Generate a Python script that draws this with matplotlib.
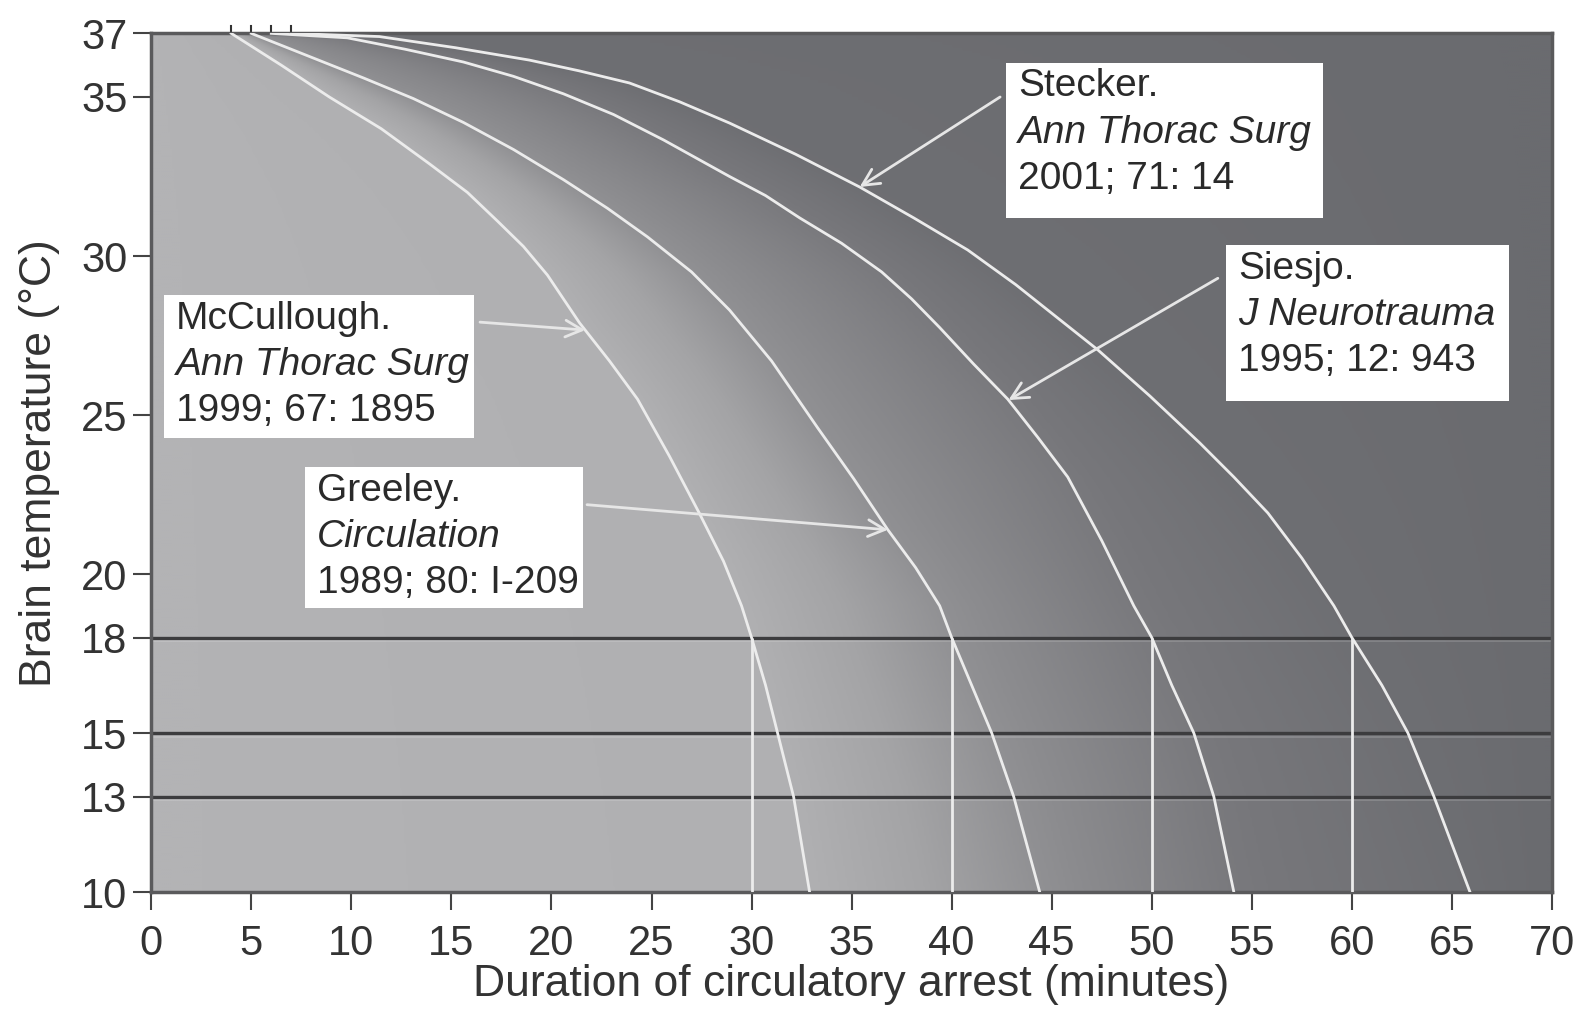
import numpy as np
import matplotlib
matplotlib.use('Agg')
import matplotlib.pyplot as plt
from matplotlib.colors import LinearSegmentedColormap
from matplotlib.patches import Rectangle

plt.rcParams['font.family'] = ['Liberation Sans', 'DejaVu Sans']

# safe duration curves (minutes vs brain temperature)
mccullough_min = [4.0, 6.5, 8.9, 11.5, 13.9, 15.8, 17.3, 18.6, 19.8, 21.4, 22.9, 24.3,
                  25.9, 27.4, 28.6, 29.5, 30.0, 30.7, 31.3, 32.1, 32.9]
mccullough_temp = [37.0, 36.0, 35.0, 34.0, 32.9, 32.0, 31.1, 30.3, 29.4, 27.9, 26.7, 25.5,
                   23.7, 21.9, 20.4, 19.0, 18.0, 16.5, 15.0, 13.0, 10.0]

greeley_min = [5.0, 7.8, 10.6, 13.1, 15.6, 18.1, 20.6, 22.8, 24.8, 27.0, 28.9, 31.0,
               33.3, 35.1, 36.8, 38.2, 39.4, 40.0, 41.0, 42.0, 43.1, 44.4]
greeley_temp = [37.0, 36.3, 35.6, 34.95, 34.2, 33.35, 32.4, 31.5, 30.6, 29.5, 28.3, 26.7,
                24.6, 23.0, 21.4, 20.2, 19.0, 18.0, 16.5, 15.0, 13.0, 10.0]

siesjo_min = [6.0, 9.8, 12.7, 15.6, 18.1, 20.6, 23.1, 25.6, 28.9, 30.7, 32.4, 34.5, 36.5,
              38.0, 39.4, 41.1, 42.8, 44.3, 45.8, 47.5, 49.1, 50.0, 51.0, 52.1, 53.1, 54.1]
siesjo_temp = [37.0, 36.86, 36.5, 36.1, 35.65, 35.1, 34.45, 33.65, 32.5, 31.9, 31.2, 30.4, 29.5,
               28.65, 27.75, 26.6, 25.5, 24.3, 23.05, 21.05, 19.0, 18.0, 16.5, 15.0, 13.0, 10.0]

stecker_min = [7.0, 11.4, 15.2, 18.9, 21.4, 23.9, 26.4, 28.9, 32.2, 35.4, 38.1, 40.8, 43.2,
               45.5, 47.3, 49.9, 52.4, 54.1, 55.8, 57.5, 59.1, 60.0, 61.5, 62.8, 64.1, 65.9]
stecker_temp = [37.0, 36.9, 36.55, 36.16, 35.82, 35.44, 34.85, 34.18, 33.2, 32.17, 31.2, 30.19, 29.1,
                27.95, 27.05, 25.6, 24.12, 23.05, 21.92, 20.5, 19.0, 18.0, 16.5, 15.0, 13.0, 10.0]

curves = [(mccullough_min, mccullough_temp), (greeley_min, greeley_temp),
          (siesjo_min, siesjo_temp), (stecker_min, stecker_temp)]

cutoff_temp = 18
cutoff_min = [30, 40, 50, 60]
level_temps = [18, 15, 13]

y_ticks = [10, 13, 15, 18, 20, 25, 30, 35, 37]
x_ticks = list(range(0, 71, 5))

# (label lines, curve index, temperature where the arrow hits the curve)
refs = [
    (["McCullough.", "Ann Thorac Surg", "1999; 67: 1895"], 0, 27.67),
    (["Greeley.", "Circulation", "1989; 80: I-209"], 1, 21.39),
    (["Siesjo.", "J Neurotrauma", "1995; 12: 943"], 2, 25.47),
    (["Stecker.", "Ann Thorac Surg", "2001; 71: 14"], 3, 32.17),
]
# box corners (x0, x1, top, bottom) and arrow tails, in data units
boxes = [(0.64, 16.13, 28.77, 24.28), (7.69, 21.58, 23.37, 18.93),
         (53.71, 67.85, 30.35, 25.44), (42.72, 58.56, 36.08, 31.2)]
tails = [(16.43, 27.92), (21.78, 22.18), (53.3, 29.3), (42.42, 35.0)]

fig = plt.figure(figsize=(15.8, 10.21), dpi=100)
ax = fig.add_axes([0.0957, 0.1263, 0.8866, 0.841])

# background shading that follows the curves
tt = np.linspace(10, 37, 300)
mm = np.linspace(0, 70, 701)
shade = np.zeros((len(tt), len(mm)))
for i, t in enumerate(tt):
    cs = [np.interp(t, c[1][::-1], c[0][::-1]) for c in curves]
    shade[i] = np.interp(mm, [0] + cs + [70], [0, 0.05, 0.45, 0.72, 0.92, 1.0])
cmap = LinearSegmentedColormap.from_list('bg', ['#b3b3b5', '#a4a4a6', '#8c8c8f', '#77777b', '#6a6b6f'])
ax.imshow(shade, extent=[0, 70, 10, 37], origin='lower', aspect='auto',
          cmap=cmap, vmin=0, vmax=1, interpolation='bilinear', zorder=0)

for t in level_temps:
    ax.axhline(t, color='#3c3c3e', lw=2.4, zorder=2)
    ax.axhline(t - 0.12, color='white', lw=1.2, alpha=0.18, zorder=2)

for m, t in curves:
    ax.plot(m, t, color='#ececec', lw=2.0, zorder=3)
ax.vlines(cutoff_min, 10, cutoff_temp, color='#ececec', lw=2.0, zorder=3)

# little marks above the frame where the curves start
for c in curves:
    ax.plot([c[0][0], c[0][0]], [1.0, 1.009], color='#333333', lw=1.5,
            transform=ax.get_xaxis_transform(), clip_on=False)

for (lines, ci, tip_t), (x0, x1, top, bot), tail in zip(refs, boxes, tails):
    tip_m = np.interp(tip_t, curves[ci][1][::-1], curves[ci][0][::-1])
    ax.annotate('', xy=(tip_m, tip_t), xytext=tail,
                arrowprops=dict(arrowstyle='->', color='#e6e6e6', lw=2.0,
                                mutation_scale=30, shrinkA=0, shrinkB=0), zorder=4)
    ax.add_patch(Rectangle((x0, bot), x1 - x0, top - bot, facecolor='white',
                           edgecolor='none', zorder=5))
    for k, line in enumerate(lines):
        ax.text(x0 + 0.6, top - 0.75 - k * 1.45, line, fontsize=28, color='#2a2a2a',
                style='italic' if k == 1 else 'normal', va='center', ha='left', zorder=6)

ax.set_xlim(0, 70)
ax.set_ylim(10, 37)
ax.set_xticks(x_ticks)
ax.set_yticks(y_ticks)
ax.tick_params(direction='out', length=13, width=1.5, color='#444444',
               labelsize=30, labelcolor='#333333')
ax.tick_params(axis='y', pad=4)
ax.tick_params(axis='x', pad=10)
for s in ax.spines.values():
    s.set_color('#5a5a5c')
    s.set_linewidth(2.5)

ax.set_xlabel("Duration of circulatory arrest (minutes)", fontsize=32, color='#333333', labelpad=0)
ax.set_ylabel("Brain temperature (°C)", fontsize=32, color='#333333', labelpad=15)

plt.savefig("out.png", dpi=100)
